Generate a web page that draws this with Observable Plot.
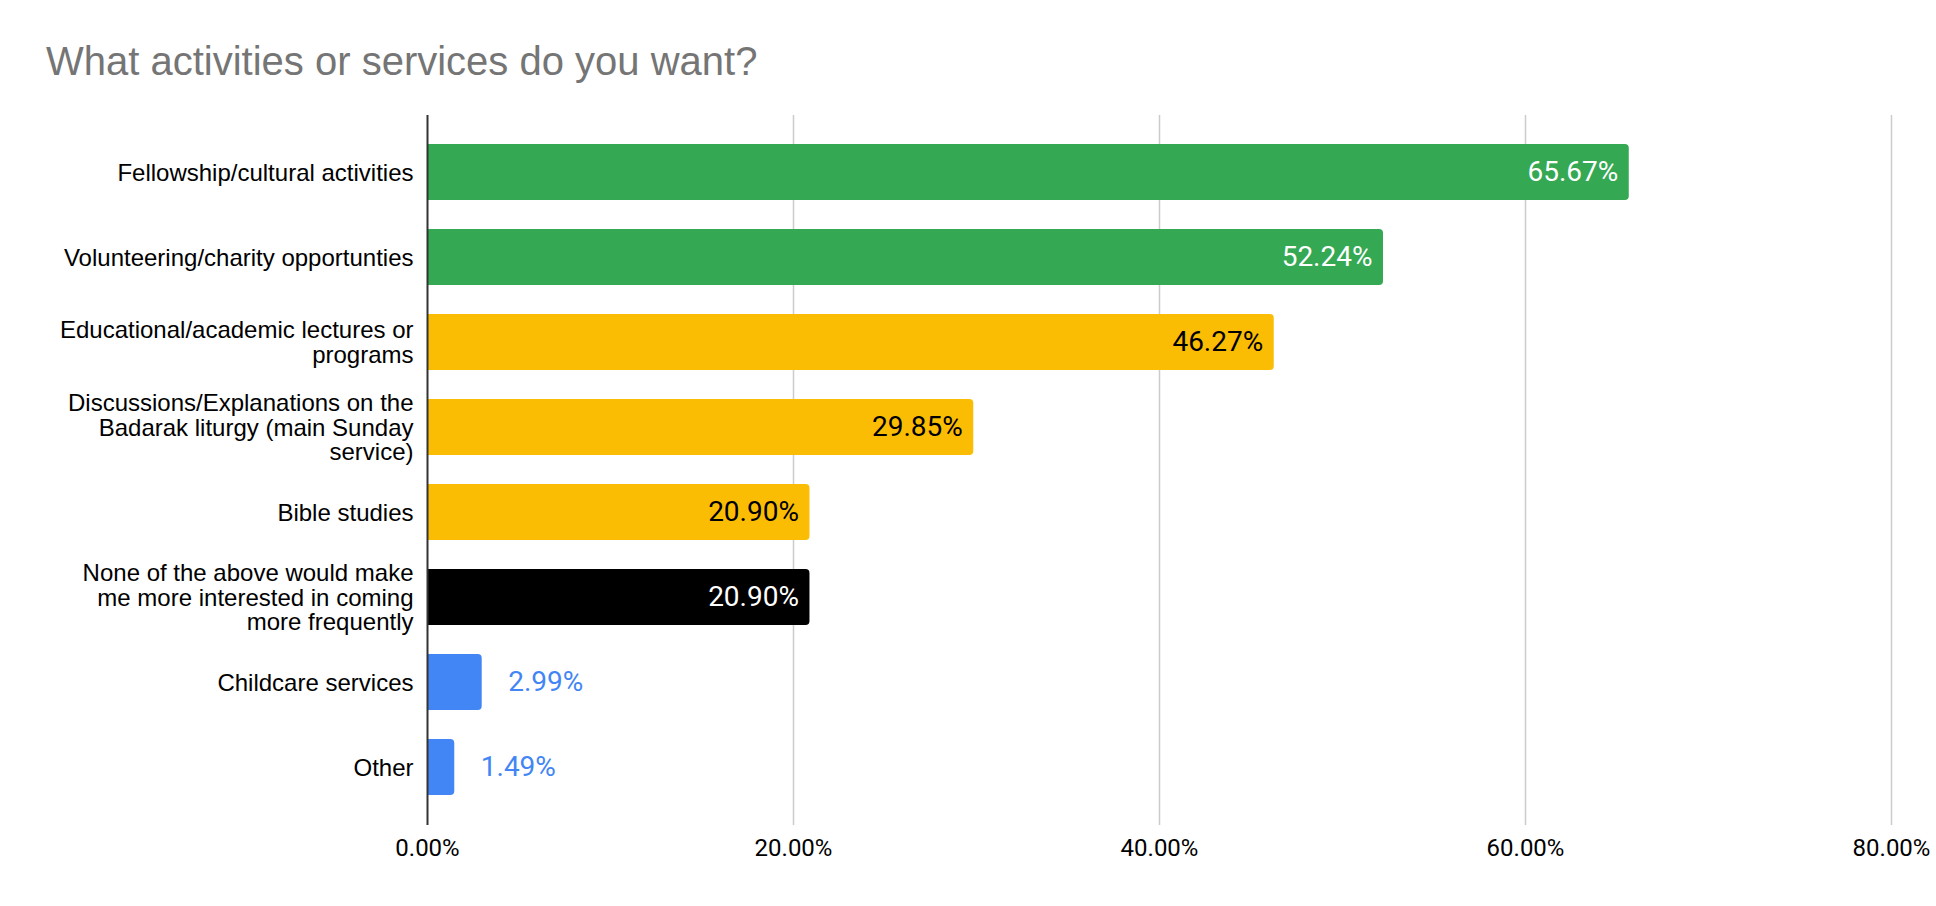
<!DOCTYPE html>
<html><head><meta charset="utf-8">
<script src="https://cdn.jsdelivr.net/npm/d3@7"></script>
<script src="https://cdn.jsdelivr.net/npm/@observablehq/plot@0.6"></script>
<style>
body{margin:0;background:#fff;}
#wrap{position:relative;width:1936px;height:906px;overflow:hidden;}
#title{position:absolute;left:46px;top:41px;font-family:"Liberation Sans",Arial,sans-serif;font-size:40px;line-height:40px;color:#757575;white-space:nowrap;}
#chart{position:absolute;left:0;top:100px;}
</style></head><body>
<div id="wrap"><div id="title">What activities or services do you want?</div><div id="chart"></div></div>
<script>
const categories = [
  "Fellowship/cultural activities",
  "Volunteering/charity opportunties",
  "Educational/academic lectures or programs",
  "Discussions/Explanations on the Badarak liturgy (main Sunday service)",
  "Bible studies",
  "None of the above would make me more interested in coming more frequently",
  "Childcare services",
  "Other"
];
const tickLabels = [
  "Fellowship/cultural activities",
  "Volunteering/charity opportunties",
  "Educational/academic lectures or\nprograms",
  "Discussions/Explanations on the\nBadarak liturgy (main Sunday\nservice)",
  "Bible studies",
  "None of the above would make\nme more interested in coming\nmore frequently",
  "Childcare services",
  "Other"
];
const values = [65.67, 52.24, 46.27, 29.85, 20.90, 20.90, 2.99, 1.49];
const barColors = ["#34a853", "#34a853", "#fbbc04", "#fbbc04", "#fbbc04", "#000000", "#4285f4", "#4285f4"];
const labelColors = ["#ffffff", "#ffffff", "#000000", "#000000", "#000000", "#ffffff", "#4285f4", "#4285f4"];
const labelInside = [true, true, true, true, true, true, false, false];
const xTicks = [0, 20, 40, 60, 80];

const data = categories.map((c, i) => ({
  category: c, value: values[i], color: barColors[i],
  labelColor: labelColors[i], inside: labelInside[i]
}));
const pct = d => d.toFixed(2) + "%";

const chart = Plot.plot({
  width: 1936, height: 806,
  marginTop: 15, marginBottom: 81, marginLeft: 427, marginRight: 45,
  x: {domain: [0, 80], label: null},
  y: {domain: categories, padding: 0.34, label: null},
  color: {type: "identity"},
  style: {fontFamily: "Roboto, sans-serif", fontSize: "24px", color: "#000", background: "#fff"},
  marks: [
    Plot.ruleX(xTicks.filter(t => t > 0), {stroke: "#cccccc", strokeWidth: 1.5}),
    Plot.barX(data, {x: "value", y: "category", fill: "color", rx2: 4}),
    Plot.ruleX([0], {stroke: "#333333", strokeWidth: 2}),
    Plot.text(data.filter(d => d.inside), {x: "value", y: "category", text: d => pct(d.value),
      textAnchor: "end", dx: -11, fill: "labelColor", fontFamily: "Roboto", fontSize: 28}),
    Plot.text(data.filter(d => !d.inside), {x: "value", y: "category", text: d => pct(d.value),
      textAnchor: "start", dx: 26, fill: "labelColor", fontFamily: "Roboto", fontSize: 28}),
    Plot.axisX({ticks: xTicks, tickSize: 0, tickPadding: 13, tickFormat: pct,
      fontFamily: "Roboto", fontSize: 24, fill: "#000"}),
    Plot.axisY({tickSize: 0, tickPadding: 14,
      tickFormat: d => tickLabels[categories.indexOf(d)],
      fontFamily: "Liberation Sans", fontSize: 24, lineHeight: 1.04, fill: "#000"})
  ]
});
document.getElementById("chart").appendChild(chart);
</script>
</body></html>
